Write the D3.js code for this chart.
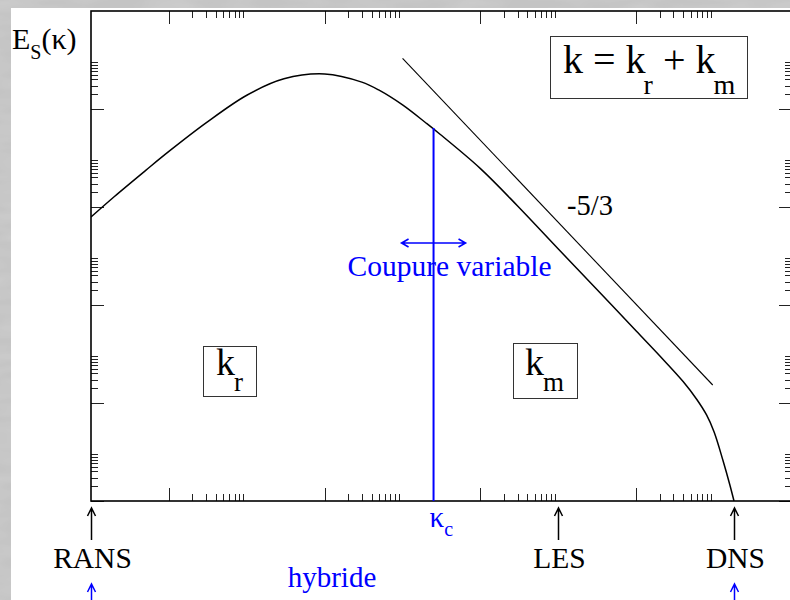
<!DOCTYPE html>
<html>
<head>
<meta charset="utf-8">
<script src="https://cdn.jsdelivr.net/npm/d3@7/dist/d3.min.js"></script>
<style>
  html, body { margin: 0; padding: 0; background: #c2c2c2; }
  svg { display: block; }
</style>
</head>
<body>
<svg id="chart" width="790" height="600"></svg>
<script>
// Energy spectrum E_S(k) versus wavenumber (log-log)
const waveNumbers = [0.1, 0.2, 0.5, 1, 3, 10, 30, 100, 300, 500, 1000, 2000, 3000,
  1e4, 3e4, 1e5, 3e5, 1e6, 2e6, 4e6, 6e6, 8e6, 1e7, 1.3e7, 1.6e7, 1.8e7];
const spectrum = [6.25e-5, 1.64e-4, 5.53e-4, 1.36e-3, 5.2e-3, 0.0191, 0.0413, 0.052, 0.0354, 0.0242, 0.0121, 5.18e-3, 3.09e-3,
  6.08e-4, 1.05e-4, 1.39e-5, 2.22e-6, 2.94e-7, 9.2e-8, 2.74e-8, 1.18e-8, 5.7e-9, 2.56e-9, 6.7e-10, 2.07e-10, 1.0e-10];

// Kolmogorov -5/3 reference line
const slopeK = [1000, 9.6e6];
const slopeE = [0.108, 2.33e-8];

// Variable cutoff wavenumber kappa_c
const cutoffK = 2500;
const cutoffE = 4.1e-3;

// Axis ticks (major every two decades, minors 2..9 after each major)
const xMajor = [1, 100, 1e4, 1e6];
const yMajor = [1e-10, 1e-8, 1e-6, 1e-4, 1e-2];
const minorFactors = [2, 3, 4, 5, 6, 7, 8, 9];

// Markers below the axis
const regimeLabels = ["RANS", "LES", "DNS"];
const regimeK = [0.1, 1e5, 1.8e7];

(function draw() {
  const svg = d3.select("#chart");
  const W = 790, H = 600;
  const pL = 91, pR = 792, pT = 11, pB = 501;
  const FONT = "Liberation Serif";

  const x = d3.scaleLog().domain([0.1, 1e8]).range([pL, pR]);
  const y = d3.scaleLog().domain([1e-10, 1]).range([pB, pT]);

  function label(px, py, size, color) {
    return svg.append("text").attr("x", px).attr("y", py)
      .style("font-family", FONT).style("font-size", size + "px").attr("fill", color);
  }

  const defs = svg.append("defs");

  // mottled grey page border
  const tex = defs.append("filter").attr("id", "mottle").attr("x", 0).attr("y", 0).attr("width", 1).attr("height", 1);
  tex.append("feTurbulence").attr("type", "fractalNoise").attr("baseFrequency", "0.02 0.08").attr("numOctaves", 2).attr("seed", 4).attr("result", "n");
  tex.append("feColorMatrix").attr("in", "n").attr("type", "matrix")
    .attr("values", "0 0 0 0 0.72  0 0 0 0 0.72  0 0 0 0 0.72  0.6 0 0 0 -0.2").attr("result", "c");
  tex.append("feComposite").attr("in", "c").attr("in2", "SourceGraphic").attr("operator", "over");

  svg.append("rect").attr("width", W).attr("height", H).attr("fill", "#c4c4c4").attr("filter", "url(#mottle)");
  svg.append("rect").attr("x", 11).attr("y", 8).attr("width", W - 11).attr("height", H - 8).attr("fill", "#ffffff");

  defs.append("clipPath").attr("id", "plotClip")
    .append("rect").attr("x", pL).attr("y", pT).attr("width", pR - pL).attr("height", pB - pT);

  // ticks
  const minorX = xMajor.flatMap(m => minorFactors.map(f => m * f)).filter(v => v < 1e8);
  const minorY = yMajor.flatMap(m => minorFactors.map(f => m * f));
  const tickG = svg.append("g").attr("stroke", "#222").attr("stroke-width", 1);
  const majLen = 13, minLen = 7;
  function vTicks(vals, len) {
    vals.forEach(v => {
      const px = Math.round(x(v)) + 0.5;
      tickG.append("line").attr("x1", px).attr("x2", px).attr("y1", pB).attr("y2", pB - len);
      tickG.append("line").attr("x1", px).attr("x2", px).attr("y1", pT).attr("y2", pT + len);
    });
  }
  function hTicks(vals, len) {
    vals.forEach(v => {
      const py = Math.round(y(v)) + 0.5;
      tickG.append("line").attr("y1", py).attr("y2", py).attr("x1", pL).attr("x2", pL + len);
      tickG.append("line").attr("y1", py).attr("y2", py).attr("x1", pR).attr("x2", pR - len);
    });
  }
  vTicks(xMajor, majLen); vTicks(minorX, minLen);
  hTicks(yMajor, majLen); hTicks(minorY, minLen);

  // frame
  svg.append("rect").attr("x", pL).attr("y", pT).attr("width", pR - pL).attr("height", pB - pT)
    .attr("fill", "none").attr("stroke", "#000").attr("stroke-width", 1.6);

  const plot = svg.append("g").attr("clip-path", "url(#plotClip)");

  // spectrum curve
  const pts = waveNumbers.map((k, i) => [x(k), y(spectrum[i])]);
  plot.append("path")
    .attr("d", d3.line().curve(d3.curveCatmullRom.alpha(0.5))(pts))
    .attr("fill", "none").attr("stroke", "#000").attr("stroke-width", 1.5);

  // -5/3 line
  plot.append("line")
    .attr("x1", x(slopeK[0])).attr("y1", y(slopeE[0]))
    .attr("x2", x(slopeK[1])).attr("y2", y(slopeE[1]))
    .attr("stroke", "#000").attr("stroke-width", 1.1);

  // cutoff line
  const xc = x(cutoffK);
  plot.append("line")
    .attr("x1", xc).attr("x2", xc).attr("y1", y(cutoffE)).attr("y2", pB)
    .attr("stroke", "#0000ff").attr("stroke-width", 2);

  // double arrow showing the movable cutoff
  const ay = 243;
  svg.append("path")
    .attr("d", `M${xc - 32},${ay} H${xc + 32} M${xc - 25},${ay - 4} L${xc - 32},${ay} L${xc - 25},${ay + 4} M${xc + 25},${ay - 4} L${xc + 32},${ay} L${xc + 25},${ay + 4}`)
    .attr("fill", "none").attr("stroke", "#0000ff").attr("stroke-width", 1.6);

  label(xc + 16, 276, 29.5, "#0000ff").attr("text-anchor", "middle").text("Coupure variable");
  label(567, 215, 28.5, "#000").text("-5/3");

  // y-axis title E_S(kappa)
  const yt = label(12, 49, 30, "#000");
  yt.append("tspan").text("E");
  yt.append("tspan").style("font-size", "20px").attr("dy", 10).text("S");
  yt.append("tspan").attr("dy", -10).text("(κ)");

  // boxed labels
  function boxedK(bx, by, bw, bh, tx, ty, size, sub, subSize) {
    svg.append("rect").attr("x", bx + 0.5).attr("y", by + 0.5).attr("width", bw).attr("height", bh)
      .attr("fill", "#fff").attr("stroke", "#333").attr("stroke-width", 1);
    const t = label(tx, ty, size, "#000");
    t.append("tspan").text("k");
    t.append("tspan").style("font-size", subSize + "px").attr("dy", 16).attr("dx", -1).text(sub);
  }
  boxedK(203, 346, 53, 50, 216, 375, 38, "r", 27);
  boxedK(513, 343, 64, 55, 525, 375, 38, "m", 27);

  // equation box
  svg.append("rect").attr("x", 550.5).attr("y", 36.5).attr("width", 197).attr("height", 62)
    .attr("fill", "#fff").attr("stroke", "#333").attr("stroke-width", 1);
  const eq = label(563, 73, 40, "#000");
  eq.append("tspan").text("k = k");
  eq.append("tspan").style("font-size", "28px").attr("dy", 21).attr("dx", -2).text("r");
  eq.append("tspan").attr("dy", -21).text(" + k");
  eq.append("tspan").style("font-size", "28px").attr("dy", 21).attr("dx", -2).text("m");

  // upward arrows and regime names under the axis
  function upArrow(px, y1, y2, color) {
    svg.append("path")
      .attr("d", `M${px},${y2} V${y1} M${px - 4},${y1 + 8} L${px},${y1} L${px + 4},${y1 + 8}`)
      .attr("fill", "none").attr("stroke", color).attr("stroke-width", 1.5);
  }
  regimeK.forEach((k, i) => {
    const px = Math.round(x(k)) + 0.5;
    upArrow(px, 508, 540, "#000");
    label(px + 1, 568, 29.5, "#000").attr("text-anchor", "middle").text(regimeLabels[i]);
  });
  upArrow(Math.round(x(regimeK[0])) + 0.5, 584, 602, "#0000ff");
  upArrow(Math.round(x(regimeK[2])) + 0.5, 584, 602, "#0000ff");

  // kappa_c label
  const kc = label(xc - 4, 527, 29, "#0000ff");
  kc.append("tspan").text("κ");
  kc.append("tspan").style("font-size", "20px").attr("dy", 9).text("c");

  label(332, 587, 29, "#0000ff").attr("text-anchor", "middle").text("hybride");
})();
</script>
</body>
</html>
